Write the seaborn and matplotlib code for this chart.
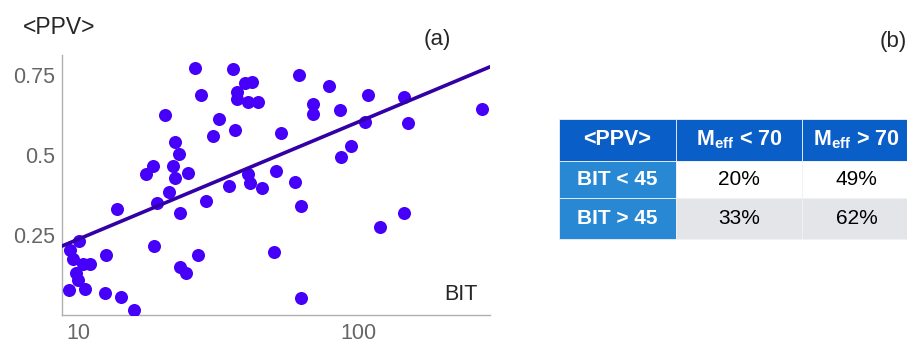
import matplotlib
matplotlib.use("Agg")
import matplotlib.pyplot as plt
import numpy as np
import pandas as pd
import seaborn as sns
from matplotlib.patches import Rectangle

# ---- data ----
bit = [9.26, 9.39, 9.60, 10.05, 9.81, 10.0, 10.56, 10.42, 11.01, 12.56,
       12.45, 14.21, 15.85, 13.77, 18.6, 17.45, 18.5, 19.15, 20.5, 21.1,
       21.8, 22.1, 22.1, 22.9, 23.1, 23.1, 24.2, 24.6, 26.2, 26.8,
       27.5, 28.7, 30.3, 31.8, 34.5, 35.8, 36.3, 36.8, 37.0, 39.4,
       41.8, 40.5, 43.9, 40.5, 41.0, 45.4, 50.0, 50.8, 52.8, 59.4,
       61.2, 62.3, 62.3, 69.0, 69.0, 78.7, 86.0, 86.5, 93.9, 105.4,
       108.6, 119.5, 145.1, 146.0, 150.9, 275.4]
ppv = [0.078, 0.203, 0.174, 0.232, 0.130, 0.109, 0.080, 0.159, 0.159, 0.186,
       0.070, 0.057, 0.016, 0.332, 0.217, 0.441, 0.466, 0.351, 0.625, 0.383,
       0.466, 0.542, 0.427, 0.502, 0.320, 0.149, 0.132, 0.443, 0.771, 0.188,
       0.688, 0.357, 0.560, 0.611, 0.403, 0.768, 0.578, 0.698, 0.675, 0.724,
       0.728, 0.667, 0.667, 0.440, 0.414, 0.398, 0.198, 0.451, 0.568, 0.415,
       0.750, 0.342, 0.054, 0.659, 0.628, 0.716, 0.641, 0.495, 0.529, 0.603,
       0.688, 0.275, 0.318, 0.682, 0.601, 0.643]

table_header = ["<PPV>", r"$\mathbf{M}_{\mathbf{eff}}$ < 70", r"$\mathbf{M}_{\mathbf{eff}}$ > 70"]
row_labels = ["BIT < 45", "BIT > 45"]
table_values = [["20%", "49%"], ["33%", "62%"]]

df = pd.DataFrame({"BIT": bit, "PPV": ppv})

sns.set_style("white")
plt.rcParams["font.family"] = ["Liberation Sans", "DejaVu Sans"]
plt.rcParams["mathtext.fontset"] = "custom"
plt.rcParams["mathtext.bf"] = "Liberation Sans:bold"
plt.rcParams["mathtext.rm"] = "Liberation Sans"

W, H = 907, 343
fig = plt.figure(figsize=(W / 100, H / 100), dpi=100)

# ---- panel (a): scatter + log fit ----
ax = fig.add_axes([62 / W, 1 - 315 / H, (490 - 62) / W, (315 - 55) / H])
ax.set_xscale("log")
ax.set_xlim(8.77, 295)
ax.set_ylim(0, 0.8125)

sns.scatterplot(data=df, x="BIT", y="PPV", ax=ax, color="#4600FA",
                s=88, linewidth=0, zorder=3)
sns.regplot(data=df, x="BIT", y="PPV", ax=ax, scatter=False, logx=True,
            ci=None, truncate=False, color="#3200A6",
            line_kws={"linewidth": 2.6, "zorder": 4})
ax.set_xlim(8.77, 295)
ax.set_ylim(0, 0.8125)

ax.set_xticks([10, 100])
ax.set_xticklabels(["10", "100"])
ax.minorticks_off()
ax.set_yticks([0.25, 0.5, 0.75])
ax.set_yticklabels(["0.25", "0.5", "0.75"])
ax.tick_params(direction="in", length=4, width=1, color="#b0b0b0",
               labelcolor="#666666", labelsize=15.5)
ax.tick_params(axis="x", pad=6)
ax.tick_params(axis="y", pad=5)
ax.set_xlabel("")
ax.set_ylabel("")
for side in ["top", "right"]:
    ax.spines[side].set_visible(False)
for side in ["left", "bottom"]:
    ax.spines[side].set_color("#b0b0b0")
    ax.spines[side].set_linewidth(1)

fig.text(23 / W, 1 - 27 / H, "<PPV>", fontsize=16.5, va="center", ha="left")
fig.text(437 / W, 1 - 40 / H, "(a)", fontsize=16, va="center", ha="center")
fig.text(461 / W, 1 - 295 / H, "BIT", fontsize=15.5, va="center", ha="center")
fig.text(893 / W, 1 - 41 / H, "(b)", fontsize=16, va="center", ha="center")

# ---- panel (b): table ----
tx0, ty0, tx1, ty1 = 559, 119, 907, 239
tab = fig.add_axes([tx0 / W, 1 - ty1 / H, (tx1 - tx0) / W, (ty1 - ty0) / H])
tab.set_xlim(0, tx1 - tx0)
tab.set_ylim(ty1 - ty0, 0)
tab.axis("off")

col_edges = [0, 117, 243, 352]
row_edges = [0, 42, 79, 120]
header_bg = "#0A5EC8"
side_bg = "#2888D3"
body_bg = ["#FFFFFF", "#E3E5E8"]

for r in range(3):
    for c in range(3):
        if r == 0:
            fc = header_bg
        elif c == 0:
            fc = side_bg
        else:
            fc = body_bg[r - 1]
        x0, x1 = col_edges[c], col_edges[c + 1]
        y0, y1 = row_edges[r], row_edges[r + 1]
        tab.add_patch(Rectangle((x0, y0), x1 - x0, y1 - y0, facecolor=fc,
                                edgecolor="#EEF2F7", linewidth=0.6,
                                clip_on=False))
        xc, yc = (x0 + x1) / 2, (y0 + y1) / 2
        if r == 0:
            tab.text(xc, yc, table_header[c], color="white", fontsize=15.5,
                     fontweight="bold", ha="center", va="center")
        elif c == 0:
            tab.text(xc, yc, row_labels[r - 1], color="white", fontsize=15,
                     fontweight="bold", ha="center", va="center")
        else:
            tab.text(xc, yc, table_values[r - 1][c - 1], color="black",
                     fontsize=15, ha="center", va="center")

fig.savefig("out.png", dpi=100)
